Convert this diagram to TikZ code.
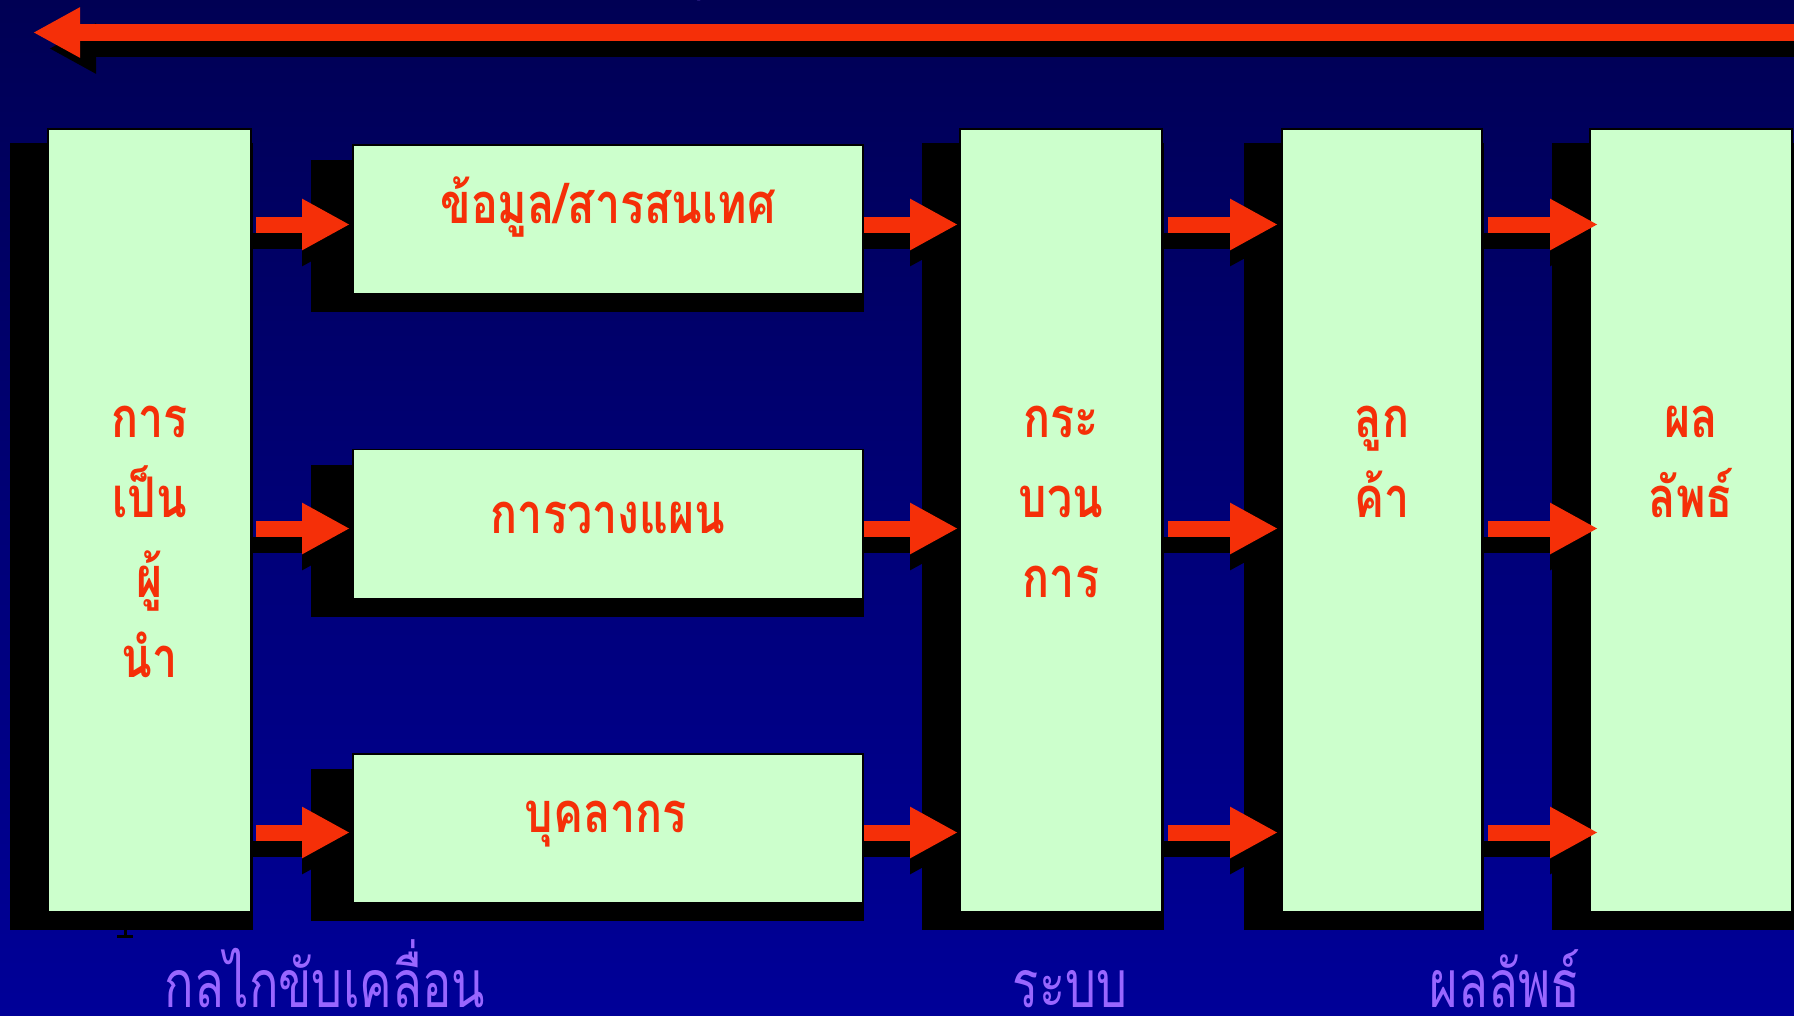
\documentclass[tikz,border=0pt]{standalone}
\usepackage{fontspec}
\newfontfamily\thaibox[Script=Thai,FakeStretch=0.8]{Loma}
\newfontfamily\thailbl[Script=Thai,FakeStretch=0.74]{Loma}
\usetikzlibrary{calc,arrows.meta}
\definecolor{bgtop}{RGB}{0,0,84}
\definecolor{bgbot}{RGB}{0,0,152}
\definecolor{arrred}{RGB}{245,47,8}
\definecolor{boxgreen}{RGB}{204,255,204}
\definecolor{lblpurple}{RGB}{153,102,255}
\tikzset{
  box/.style={draw=black, line width=1.2pt, fill=boxgreen, inner sep=0pt, outer sep=0pt},
  boxtxt/.style={text=arrred, font=\thaibox\bfseries\fontsize{56}{60}\selectfont, anchor=base, inner sep=0pt},
  lbl/.style={text=lblpurple, font=\thailbl\fontsize{66}{70}\selectfont, anchor=base, inner sep=0pt},
  blockarr/.style={draw=arrred, line width=16pt, -{Triangle[length=48pt,width=48pt]}},
  blockshadow/.style={draw=black, line width=16pt, -{Triangle[length=48pt,width=48pt]}},
  toparr/.style={line width=17pt, -{Triangle[length=47pt,width=47pt]}},
}
\begin{document}
\begin{tikzpicture}[x=1pt,y=-1pt]
\useasboundingbox (0,0) rectangle (1794,1015);
\shade[top color=bgtop, bottom color=bgbot] (0,0) rectangle (1794,1015);

% top arrow
\coordinate (topR) at (1820,32.5);
\coordinate (topL) at (33,32.5);
\draw[toparr, draw=black] ($(topR)+(16,16)$) -- ($(topL)+(16,16)$);
\draw[toparr, draw=arrred] (topR) -- (topL);
\node[lbl] (frag) at (690,-17) {กุ};

% box nodes (positions)
\path
  (149.5,520.5) node[minimum width=203pt, minimum height=783pt, inner sep=0pt, outer sep=0pt] (lead) {}
  (608,219.5)   node[minimum width=510pt, minimum height=149pt, inner sep=0pt, outer sep=0pt] (info) {}
  (608,524)     node[minimum width=510pt, minimum height=149pt, inner sep=0pt, outer sep=0pt] (plan) {}
  (608,828.5)   node[minimum width=510pt, minimum height=149pt, inner sep=0pt, outer sep=0pt] (staff) {}
  (1061,520.5)  node[minimum width=202pt, minimum height=783pt, inner sep=0pt, outer sep=0pt] (proc) {}
  (1382,520.5)  node[minimum width=200pt, minimum height=783pt, inner sep=0pt, outer sep=0pt] (cust) {}
  (1691,520.5)  node[minimum width=202pt, minimum height=783pt, inner sep=0pt, outer sep=0pt] (res) {};

% box shadows
\foreach \b in {lead,proc,cust,res}
  \fill[black] ($(\b.north west)+(-38,14)$) rectangle ($(\b.south east)+(2,18)$);
\foreach \b in {info,plan,staff}
  \fill[black] ($(\b.north west)+(-42,15)$) rectangle ($(\b.south east)+(1,18)$);

% arrow rows
\coordinate (r1) at (0,224.5);
\coordinate (r2) at (0,528.5);
\coordinate (r3) at (0,832.5);

% arrow shadows
\foreach \r in {r1,r2,r3}
  \foreach \a/\da/\b/\db in {lead/5/info/-3, info/1/proc/-2, proc/6/cust/-4, cust/6/res/8}
    \draw[blockshadow] ($(\a.east|-\r)+(0,16)$) -- ($(\b.west|-\r)+(\db,16)$);

% boxes
\foreach \b in {lead,info,plan,staff,proc,cust,res}
  \draw[box] (\b.north west) rectangle (\b.south east);

% arrows
\foreach \r in {r1,r2,r3}
  \foreach \a/\da/\b/\db in {lead/5/info/-3, info/1/proc/-2, proc/6/cust/-4, cust/6/res/8}
    \draw[blockarr] ($(\a.east|-\r)+(\da,0)$) -- ($(\b.west|-\r)+(\db,0)$);

% box texts
\node[boxtxt] (t1) at (149.5,437) {การ};
\node[boxtxt] (t2) at (149.5,517) {เป็น};
\node[boxtxt] (t3) at (149.5,597) {ผู้};
\node[boxtxt] (t4) at (149.5,677) {นำ};
\node[boxtxt] (t5) at (608,223) {ข้อมูล/สารสนเทศ};
\node[boxtxt] (t6) at (608,533) {การวางแผน};
\node[boxtxt] (t7) at (606,832) {บุคลากร};
\node[boxtxt] (t8) at (1061,437) {กระ};
\node[boxtxt] (t9) at (1061,517) {บวน};
\node[boxtxt] (t10) at (1061,597) {การ};
\node[boxtxt] (t11) at (1382,437) {ลูก};
\node[boxtxt] (t12) at (1382,517) {ค้า};
\node[boxtxt] (t13) at (1691,437) {ผล};
\node[boxtxt] (t14) at (1691,517) {ลัพธ์};

% small black mark
\fill[black] (123.5,929) rectangle (127,937);
\fill[black] (117,935) rectangle (133,937.5);

% bottom labels
\node[lbl] (l1) at (325,1007) {กลไกขับเคลื่อน};
\node[lbl] (l2) at (1070,1007) {ระบบ};
\node[lbl] (l3) at (1505,1007) {ผลลัพธ์};
\end{tikzpicture}
\end{document}
